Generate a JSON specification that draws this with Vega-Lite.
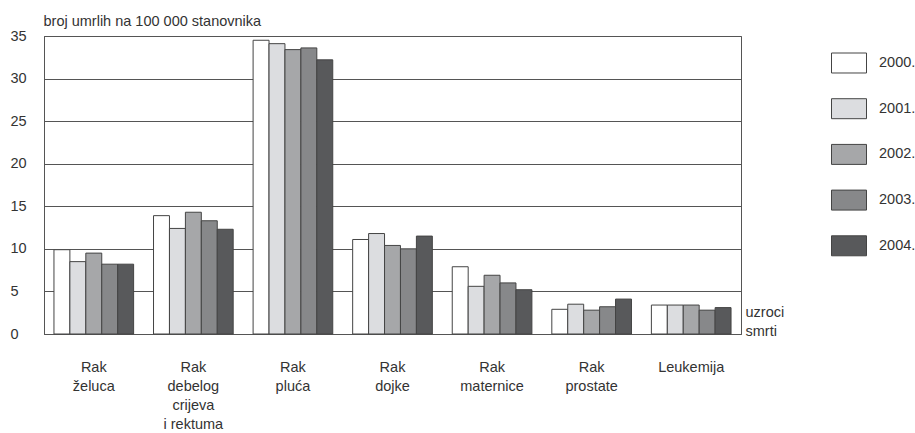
{
  "$schema": "https://vega.github.io/schema/vega-lite/v6.json",
  "width": 697,
  "height": 298,
  "autosize": {"type": "none"},
  "padding": {"left": 44, "top": 36, "right": 174, "bottom": 99},
  "background": "white",
  "config": {
    "font": "Liberation Sans",
    "view": {"stroke": "#555", "strokeWidth": 1}
  },
  "data": {
    "values": [
      {"cause": "Rak|želuca", "year": "2000.", "value": 9.9},
      {"cause": "Rak|želuca", "year": "2001.", "value": 8.5},
      {"cause": "Rak|želuca", "year": "2002.", "value": 9.5},
      {"cause": "Rak|želuca", "year": "2003.", "value": 8.2},
      {"cause": "Rak|želuca", "year": "2004.", "value": 8.2},
      {"cause": "Rak|debelog|crijeva|i rektuma", "year": "2000.", "value": 13.9},
      {"cause": "Rak|debelog|crijeva|i rektuma", "year": "2001.", "value": 12.4},
      {"cause": "Rak|debelog|crijeva|i rektuma", "year": "2002.", "value": 14.3},
      {"cause": "Rak|debelog|crijeva|i rektuma", "year": "2003.", "value": 13.3},
      {"cause": "Rak|debelog|crijeva|i rektuma", "year": "2004.", "value": 12.3},
      {"cause": "Rak|pluća", "year": "2000.", "value": 34.5},
      {"cause": "Rak|pluća", "year": "2001.", "value": 34.1},
      {"cause": "Rak|pluća", "year": "2002.", "value": 33.4},
      {"cause": "Rak|pluća", "year": "2003.", "value": 33.6},
      {"cause": "Rak|pluća", "year": "2004.", "value": 32.2},
      {"cause": "Rak|dojke", "year": "2000.", "value": 11.1},
      {"cause": "Rak|dojke", "year": "2001.", "value": 11.8},
      {"cause": "Rak|dojke", "year": "2002.", "value": 10.4},
      {"cause": "Rak|dojke", "year": "2003.", "value": 10.0},
      {"cause": "Rak|dojke", "year": "2004.", "value": 11.5},
      {"cause": "Rak|maternice", "year": "2000.", "value": 7.9},
      {"cause": "Rak|maternice", "year": "2001.", "value": 5.6},
      {"cause": "Rak|maternice", "year": "2002.", "value": 6.9},
      {"cause": "Rak|maternice", "year": "2003.", "value": 6.0},
      {"cause": "Rak|maternice", "year": "2004.", "value": 5.2},
      {"cause": "Rak|prostate", "year": "2000.", "value": 2.9},
      {"cause": "Rak|prostate", "year": "2001.", "value": 3.5},
      {"cause": "Rak|prostate", "year": "2002.", "value": 2.8},
      {"cause": "Rak|prostate", "year": "2003.", "value": 3.2},
      {"cause": "Rak|prostate", "year": "2004.", "value": 4.1},
      {"cause": "Leukemija", "year": "2000.", "value": 3.4},
      {"cause": "Leukemija", "year": "2001.", "value": 3.4},
      {"cause": "Leukemija", "year": "2002.", "value": 3.4},
      {"cause": "Leukemija", "year": "2003.", "value": 2.8},
      {"cause": "Leukemija", "year": "2004.", "value": 3.1}
    ]
  },
  "mark": {"type": "bar", "stroke": "#444", "strokeWidth": 1},
  "encoding": {
    "x": {
      "field": "cause",
      "type": "nominal",
      "sort": null,
      "scale": {"paddingInner": 0.2, "paddingOuter": 0.1},
      "axis": {
        "title": ["uzroci", "smrti"],
        "titleX": 701,
        "titleY": -18,
        "titleAlign": "left",
        "titleBaseline": "alphabetic",
        "titleLineHeight": 19,
        "titleFontSize": 14.5,
        "titleFontWeight": "normal",
        "titleColor": "#333",
        "labelAngle": 0,
        "labelExpr": "split(datum.label, '|')",
        "labelLineHeight": 19,
        "labelPadding": 26,
        "labelBaseline": "top",
        "labelFontSize": 14.5,
        "labelColor": "#333",
        "ticks": false,
        "domainColor": "#555"
      }
    },
    "xOffset": {
      "field": "year",
      "type": "nominal",
      "sort": null,
      "scale": {"paddingInner": 0, "paddingOuter": 0}
    },
    "y": {
      "field": "value",
      "type": "quantitative",
      "scale": {"domain": [0, 35], "nice": false},
      "axis": {
        "values": [0, 5, 10, 15, 20, 25, 30, 35],
        "title": "broj umrlih na 100 000 stanovnika",
        "titleAngle": 0,
        "titleAlign": "left",
        "titleX": -1,
        "titleY": -11,
        "titleBaseline": "alphabetic",
        "titleFontSize": 14.5,
        "titleFontWeight": "normal",
        "titleColor": "#333",
        "labelAlign": "left",
        "labelBaseline": "middle",
        "labelPadding": 34,
        "labelFontSize": 14.5,
        "labelColor": "#333",
        "ticks": false,
        "gridColor": "#555",
        "gridOpacity": 1,
        "domainColor": "#555"
      }
    },
    "color": {
      "field": "year",
      "type": "nominal",
      "sort": null,
      "scale": {
        "domain": ["2000.", "2001.", "2002.", "2003.", "2004."],
        "range": ["#ffffff", "#dcdde0", "#a6a7a9", "#87888a", "#58595b"]
      },
      "legend": {
        "orient": "none",
        "legendX": 787,
        "legendY": 9,
        "title": null,
        "padding": 0,
        "symbolType": "M-1,-0.571L1,-0.571L1,0.571L-1,0.571Z",
        "symbolSize": 1225,
        "symbolStrokeColor": "#444",
        "symbolStrokeWidth": 1,
        "symbolOpacity": 1,
        "labelFontSize": 14.5,
        "labelColor": "#333",
        "labelOffset": 12,
        "rowPadding": 15.7
      }
    }
  }
}
